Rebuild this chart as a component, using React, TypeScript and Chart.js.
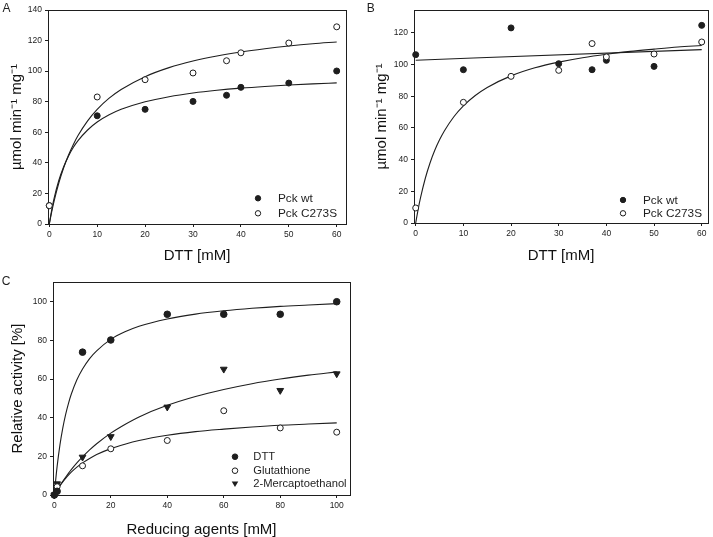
import React, { useEffect, useRef } from 'react';
import { Chart, registerables } from 'chart.js';

Chart.register(...registerables);

const FONT = "'Liberation Sans', Arial, Helvetica, sans-serif";
const INK = '#1e1e1e';

// ---------- Panel A ----------
const aConc = [0, 10, 20, 30, 37, 40, 50, 60];
const aWt = [12, 70.8, 75.0, 80.2, 84.2, 89.4, 92.2, 100.1];
const aC273S = [12, 83.1, 94.4, 98.8, 106.8, 112, 118.4, 129];
const aFitConc = [0, 0.5, 1, 2, 3, 4, 5, 6, 8, 10, 12.5, 15, 20, 25, 30, 35, 40, 45, 50, 55, 60];
const aWtFit = [0, 9.1, 16.7, 28.6, 37.5, 44.4, 50, 54.5, 61.5, 66.7, 71.4, 75, 80, 83.3, 85.7, 87.5, 88.9, 90, 90.9, 91.7, 92.3];
const aC273SFit = [0, 7.9, 15, 27, 36.8, 45, 51.9, 57.9, 67.5, 75, 82.3, 88, 96.4, 102.3, 106.6, 109.9, 112.5, 114.6, 116.4, 117.9, 119.1];
const aXTicks = [0, 10, 20, 30, 40, 50, 60];
const aYTicks = [0, 20, 40, 60, 80, 100, 120, 140];

// ---------- Panel B ----------
const bConc = [0, 10, 20, 30, 37, 40, 50, 60];
const bWt = [106.3, 96.8, 123.2, 100.6, 96.8, 102.7, 98.9, 124.8];
const bC273S = [9.5, 76.2, 92.6, 96.4, 113.3, 104.9, 106.7, 114.3];
const bWtFitConc = [0, 60];
const bWtFit = [102.8, 109.5];
const bFitConc = [0, 0.5, 1, 2, 3, 4, 5, 6, 8, 10, 12.5, 15, 20, 25, 30, 35, 40, 45, 50, 55, 60];
const bC273SFit = [0, 8.5, 15.8, 28.1, 37.9, 45.9, 52.5, 58.1, 67.1, 74, 80.5, 85.6, 92.9, 98, 101.6, 104.4, 106.6, 108.4, 109.8, 111.1, 112.1];
const bXTicks = [0, 10, 20, 30, 40, 50, 60];
const bYTicks = [0, 20, 40, 60, 80, 100, 120];

// ---------- Panel C ----------
const cConc = [0, 1, 10, 20, 40, 60, 80, 100];
const cDTT = [0, 1.9, 73.9, 80.2, 93.5, 93.5, 93.5, 100];
const cGSH = [0, 4.3, 15.1, 23.9, 28.2, 43.6, 34.7, 32.5];
const cME = [0, 5.8, 19.6, 30.2, 45.5, 65.1, 54.1, 62.7];
const cFitConc = [0, 0.5, 1, 2, 3, 4, 5, 6, 8, 10, 12.5, 15, 20, 25, 30, 40, 50, 60, 70, 80, 90, 100];
const cDTTFit = [0, 7.9, 14.8, 25.9, 34.6, 41.6, 47.3, 52.1, 59.6, 65.2, 70.6, 74.6, 80.5, 84.4, 87.3, 91.1, 93.6, 95.3, 96.6, 97.6, 98.3, 99];
const cGSHFit = [0, 1.3, 2.5, 4.8, 6.8, 8.6, 10.3, 11.8, 14.4, 16.6, 18.9, 20.9, 24, 26.3, 28.2, 30.9, 32.8, 34.1, 35.2, 36.1, 36.7, 37.3];
const cMEFit = [0, 1.3, 2.5, 4.9, 7.1, 9.2, 11.2, 13.1, 16.6, 19.7, 23.3, 26.5, 32, 36.5, 40.4, 46.4, 51, 54.6, 57.6, 60, 62, 63.7];
const cXTicks = [0, 20, 40, 60, 80, 100];
const cYTicks = [0, 20, 40, 60, 80, 100];

type Pt = { x: number; y: number };
const zip = (xs: number[], ys: number[]): Pt[] => xs.map((x, i) => ({ x, y: ys[i] }));

type Marker = 'filled' | 'open' | 'triDown';

function drawMarker(ctx: CanvasRenderingContext2D, kind: Marker, x: number, y: number, r: number) {
  ctx.save();
  ctx.lineWidth = 1;
  ctx.strokeStyle = INK;
  ctx.beginPath();
  if (kind === 'triDown') {
    const rr = r * 1.35;
    const w = rr * Math.sqrt(3) / 2;
    ctx.moveTo(x, y + rr);
    ctx.lineTo(x - w, y - rr / 2);
    ctx.lineTo(x + w, y - rr / 2);
    ctx.closePath();
    ctx.fillStyle = INK;
    ctx.fill();
  } else {
    ctx.arc(x, y, r, 0, Math.PI * 2);
    ctx.fillStyle = kind === 'filled' ? INK : '#ffffff';
    ctx.fill();
    ctx.stroke();
  }
  ctx.restore();
}

const scatterSet = (data: Pt[], kind: Marker, r: number) => ({
  data,
  showLine: false,
  pointStyle: kind === 'triDown' ? 'triangle' : 'circle',
  pointRotation: kind === 'triDown' ? 180 : 0,
  pointRadius: r,
  pointBorderWidth: 1,
  pointBorderColor: INK,
  pointBackgroundColor: kind === 'open' ? '#ffffff' : INK,
  clip: false as any,
  order: 0,
});

const curveSet = (data: Pt[]) => ({
  data,
  showLine: true,
  pointRadius: 0,
  borderColor: INK,
  borderWidth: 1.1,
  cubicInterpolationMode: 'monotone',
  fill: false,
  clip: false as any,
  order: 5,
});

interface PanelProps {
  left: number; top: number; width: number; height: number;
  area: { left: number; right: number; top: number; bottom: number };
  xMin: number; xMax: number; yMin: number; yMax: number;
  xTicks: number[]; yTicks: number[];
  xTitle: string; yTitle: string;
  xTitlePad: number; yTitlePad: number;
  datasets: any[];
  legend: { items: { label: string; kind: Marker }[]; markerDx: number; textDx: number; rowDy: number[]; font: number; r: number };
  letter: { text: string; x: number; y: number };
}

function Panel(p: PanelProps) {
  const ref = useRef<HTMLCanvasElement | null>(null);
  useEffect(() => {
    if (!ref.current) return;
    const framePlugin = {
      id: 'frameAndLegend',
      beforeDatasetsDraw(chart: any) {
        const { ctx, chartArea: a } = chart;
        ctx.save();
        ctx.strokeStyle = INK;
        ctx.lineWidth = 1;
        ctx.strokeRect(Math.round(a.left) + 0.5, Math.round(a.top) + 0.5, Math.round(a.right) - Math.round(a.left), Math.round(a.bottom) - Math.round(a.top));
        ctx.restore();
      },
      afterDraw(chart: any) {
        const { ctx, chartArea: a } = chart;
        const lg = p.legend;
        lg.items.forEach((it, i) => {
          const y = a.bottom + lg.rowDy[i];
          drawMarker(ctx, it.kind, a.right + lg.markerDx, y, lg.r);
          ctx.save();
          ctx.fillStyle = INK;
          ctx.font = `${lg.font}px ${FONT}`;
          ctx.textBaseline = 'middle';
          ctx.textAlign = 'left';
          ctx.fillText(it.label, a.right + lg.textDx, y + 0.5);
          ctx.restore();
        });
        ctx.save();
        ctx.fillStyle = INK;
        ctx.font = `12px ${FONT}`;
        ctx.textBaseline = 'alphabetic';
        ctx.fillText(p.letter.text, p.letter.x, p.letter.y);
        ctx.restore();
      },
    };
    const tickFont = { family: FONT, size: 8.5 };
    const titleFont = { family: FONT, size: 15, lineHeight: 1 };
    const chart = new Chart(ref.current, {
      type: 'scatter',
      data: { datasets: p.datasets },
      options: {
        animation: false,
        responsive: false,
        maintainAspectRatio: false,
        layout: {
          padding: { left: 0, top: p.area.top, right: p.width - p.area.right, bottom: 0 },
        },
        plugins: { legend: { display: false }, tooltip: { enabled: false } },
        scales: {
          x: {
            type: 'linear',
            position: 'bottom',
            min: p.xMin,
            max: p.xMax,
            afterBuildTicks: (s: any) => { s.ticks = p.xTicks.map((v) => ({ value: v })); },
            afterFit: (s: any) => { s.height = p.height - p.area.bottom; },
            grid: { display: true, drawOnChartArea: false, drawTicks: true, tickLength: 3, color: INK, lineWidth: 1 },
            border: { display: true, color: INK, width: 1 },
            ticks: { font: tickFont, color: '#222', padding: 3, maxRotation: 0, autoSkip: false },
            title: { display: true, text: p.xTitle, font: titleFont, color: '#111', padding: { top: 0, bottom: p.xTitlePad } },
          },
          y: {
            type: 'linear',
            position: 'left',
            min: p.yMin,
            max: p.yMax,
            afterBuildTicks: (s: any) => { s.ticks = p.yTicks.map((v) => ({ value: v })); },
            afterFit: (s: any) => { s.width = p.area.left; },
            grid: { display: true, drawOnChartArea: false, drawTicks: true, tickLength: 3, color: INK, lineWidth: 1 },
            border: { display: true, color: INK, width: 1 },
            ticks: { font: tickFont, color: '#222', padding: 3, autoSkip: false },
            title: { display: true, text: p.yTitle, font: titleFont, color: '#111', padding: { top: p.yTitlePad, bottom: 0 } },
          },
        },
      } as any,
      plugins: [framePlugin],
    });
    return () => chart.destroy();
  }, []);
  return (
    <canvas
      ref={ref}
      width={p.width}
      height={p.height}
      style={{ position: 'absolute', left: p.left, top: p.top, width: p.width, height: p.height }}
    />
  );
}

const Y_RATE = 'µmol min⁻¹ mg⁻¹';

export default function App() {
  return (
    <div style={{ position: 'absolute', left: 0, top: 0, width: 713, height: 537, background: '#ffffff', overflow: 'hidden' }}>
      <Panel
        left={0} top={0} width={356} height={268}
        area={{ left: 48, right: 346, top: 10, bottom: 224 }}
        xMin={-0.27} xMax={61.94} yMin={0} yMax={140}
        xTicks={aXTicks} yTicks={aYTicks}
        xTitle="DTT [mM]" yTitle={Y_RATE}
        xTitlePad={4.5} yTitlePad={9.2}
        datasets={[
          scatterSet(zip(aConc, aC273S), 'open', 3),
          scatterSet(zip(aConc, aWt), 'filled', 3),
          curveSet(zip(aFitConc, aWtFit)),
          curveSet(zip(aFitConc, aC273SFit)),
        ]}
        legend={{ items: [{ label: 'Pck wt', kind: 'filled' }, { label: 'Pck C273S', kind: 'open' }], markerDx: -88, textDx: -68, rowDy: [-25.7, -10.7], font: 11.8, r: 2.7 }}
        letter={{ text: 'A', x: 2.5, y: 11.7 }}
      />
      <Panel
        left={356} top={0} width={357} height={268}
        area={{ left: 58, right: 353, top: 10, bottom: 223 }}
        xMin={-0.36} xMax={61.32} yMin={0} yMax={134.5}
        xTicks={bXTicks} yTicks={bYTicks}
        xTitle="DTT [mM]" yTitle={Y_RATE}
        xTitlePad={4.8} yTitlePad={18.2}
        datasets={[
          scatterSet(zip(bConc, bC273S), 'open', 3),
          scatterSet(zip(bConc, bWt), 'filled', 3),
          curveSet(zip(bWtFitConc, bWtFit)),
          curveSet(zip(bFitConc, bC273SFit)),
        ]}
        legend={{ items: [{ label: 'Pck wt', kind: 'filled' }, { label: 'Pck C273S', kind: 'open' }], markerDx: -85, textDx: -65, rowDy: [-23, -9.7], font: 11.8, r: 2.7 }}
        letter={{ text: 'B', x: 10.7, y: 11.7 }}
      />
      <Panel
        left={0} top={268} width={356} height={269}
        area={{ left: 53, right: 350, top: 14, bottom: 227 }}
        xMin={-0.46} xMax={104.7} yMin={0} yMax={110.2}
        xTicks={cXTicks} yTicks={cYTicks}
        xTitle="Reducing agents [mM]" yTitle="Relative activity [%]"
        xTitlePad={0} yTitlePad={10.8}
        datasets={[
          scatterSet(zip(cConc, cDTT), 'filled', 3.3),
          scatterSet(zip(cConc, cGSH), 'open', 3),
          scatterSet(zip(cConc, cME), 'triDown', 3.9),
          curveSet(zip(cFitConc, cDTTFit)),
          curveSet(zip(cFitConc, cGSHFit)),
          curveSet(zip(cFitConc, cMEFit)),
        ]}
        legend={{ items: [{ label: 'DTT', kind: 'filled' }, { label: 'Glutathione', kind: 'open' }, { label: '2-Mercaptoethanol', kind: 'triDown' }], markerDx: -115, textDx: -96.7, rowDy: [-38.3, -24.3, -11.7], font: 11.2, r: 2.8 }}
        letter={{ text: 'C', x: 1.7, y: 17 }}
      />
    </div>
  );
}
